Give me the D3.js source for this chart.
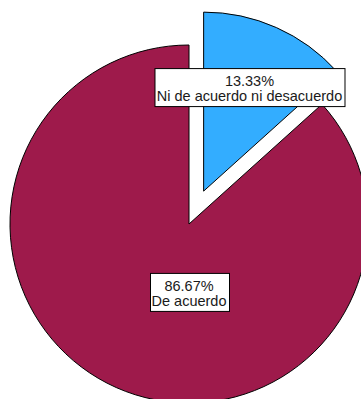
<!DOCTYPE html>
<html>
<head>
<meta charset="utf-8">
<script src="https://cdn.jsdelivr.net/npm/d3@7"></script>
<style>
  html, body { margin: 0; padding: 0; background: #fff; }
  svg { display: block; }
</style>
</head>
<body>
<svg id="chart" width="361" height="399"></svg>
<script>
// Response categories and their shares (percent)
const categories = ["Ni de acuerdo ni desacuerdo", "De acuerdo"];
const percents = [13.33, 86.67];
const colors = ["#33adff", "#9e1a4b"];
const exploded = [true, false];

const width = 361, height = 399;
const cx = 189, cy = 224, radius = 179, explodeDist = 36;

const svg = d3.select("#chart");

const pie = d3.pie().sort(null).value(d => d.value);
const arcs = pie(categories.map((c, i) => ({ name: c, value: percents[i], i })));

const arc = d3.arc().innerRadius(0).outerRadius(radius);

const g = svg.append("g").attr("transform", `translate(${cx},${cy})`);

function offset(d) {
  if (!exploded[d.data.i]) return [0, 0];
  const mid = (d.startAngle + d.endAngle) / 2;
  return [Math.sin(mid) * explodeDist, -Math.cos(mid) * explodeDist];
}

g.selectAll("path.slice")
  .data(arcs)
  .join("path")
  .attr("class", "slice")
  .attr("transform", d => `translate(${offset(d)})`)
  .attr("d", arc)
  .attr("fill", d => colors[d.data.i])
  .attr("stroke", "#000")
  .attr("stroke-width", 1)
  .attr("stroke-linejoin", "miter");

// Label anchors relative to each slice
function labelPos(d) {
  const [ox, oy] = offset(d);
  if (d.data.i === 0) {
    const mid = (d.startAngle + d.endAngle) / 2;
    const r = radius * 0.63;
    return [ox + Math.sin(mid) * r, oy - Math.cos(mid) * r];
  }
  return [0, radius * 0.385];
}

const fontSize = 14.5;
const labels = g.selectAll("g.lab")
  .data(arcs)
  .join("g")
  .attr("class", "lab")
  .attr("transform", d => `translate(${labelPos(d)})`);

labels.each(function(d) {
  const el = d3.select(this);
  const lines = [d3.format(".2f")(d.data.value) + "%", d.data.name];
  const rect = el.append("rect").attr("fill", "#fff").attr("stroke", "#000").attr("stroke-width", 1);
  const t = el.append("text")
    .attr("text-anchor", "middle")
    .attr("font-family", "Liberation Sans, Arial, sans-serif")
    .attr("font-size", fontSize)
    .attr("fill", "#1a1a1a");
  const baselines = [-2, 13];
  lines.forEach((s, k) => {
    t.append("tspan").attr("x", 0).attr("y", baselines[k]).text(s);
  });
  const bb = t.node().getBBox();
  const w = Math.ceil(bb.width) + 4, h = 38;
  rect.attr("x", Math.round(-w / 2) + 0.5).attr("y", -19.5)
      .attr("width", w).attr("height", h);
});
</script>
</body>
</html>
